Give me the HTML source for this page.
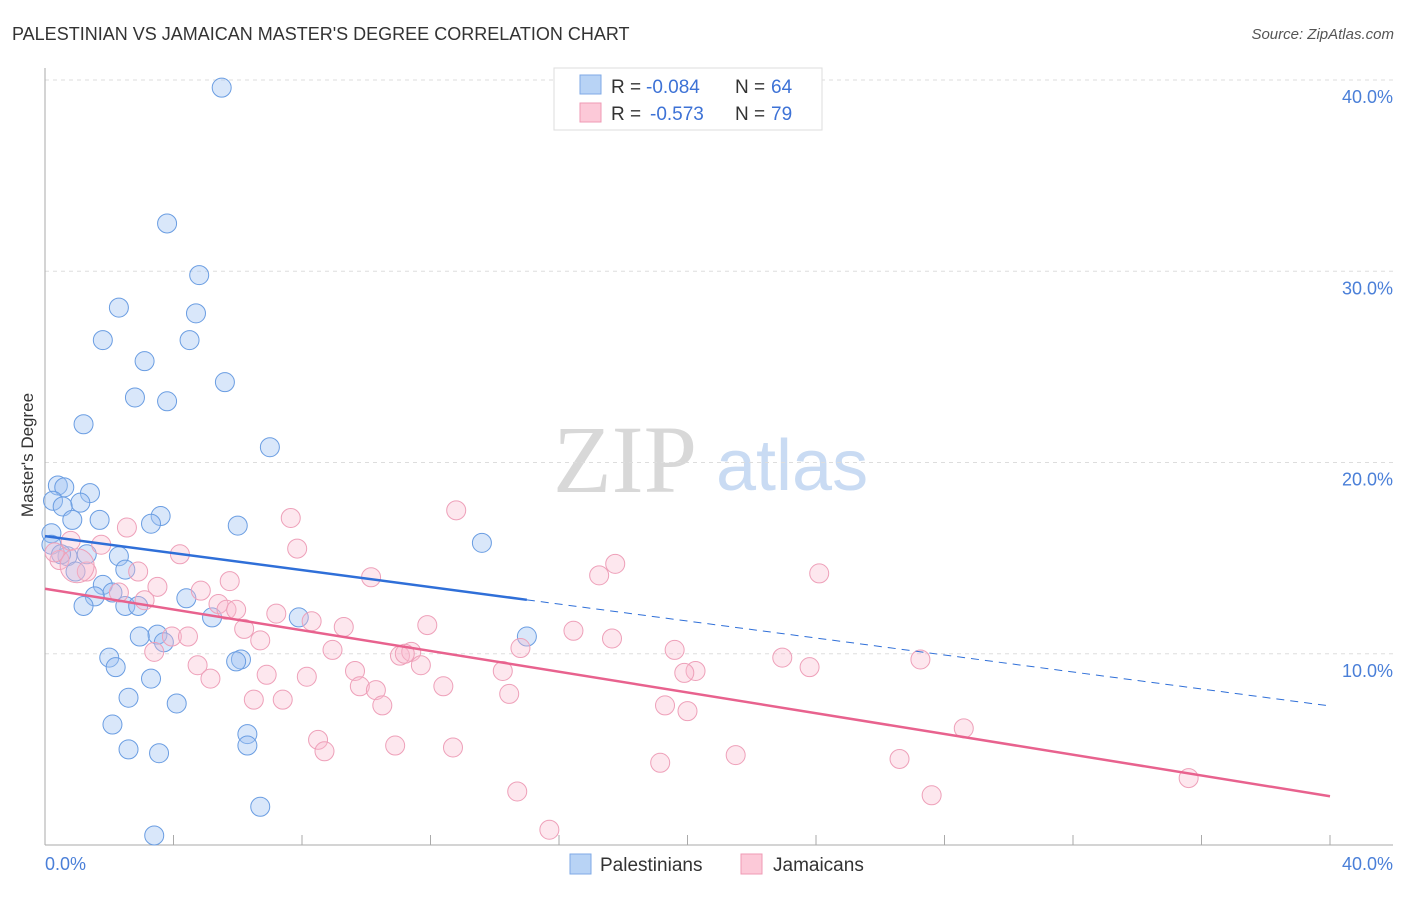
<!DOCTYPE html>
<html><head><meta charset="utf-8"><style>
body{margin:0;background:#fff;font-family:"Liberation Sans",sans-serif;}
svg text{font-family:"Liberation Sans",sans-serif;}
</style></head><body>
<svg id="chart" width="1406" height="892" xmlns="http://www.w3.org/2000/svg">
<text x="12" y="40" font-size="18" fill="#333">PALESTINIAN VS JAMAICAN MASTER'S DEGREE CORRELATION CHART</text>
<text x="1394" y="39" font-size="15" fill="#555" text-anchor="end" font-style="italic">Source: ZipAtlas.com</text>
<text x="553" y="492" font-size="96" fill="#d8d8d8" style="font-family:'Liberation Serif',serif">ZIP</text>
<text x="716" y="490" font-size="72" fill="#c9dbf3">atlas</text>
<g id="grid"></g>
<g id="axes"></g>
<g id="pts"></g>
<g id="trend"></g>
<text transform="translate(33,455) rotate(-90)" font-size="17" fill="#333" text-anchor="middle">Master's Degree</text>
<text x="45" y="870" font-size="18" fill="#4a7fd8">0.0%</text>
<text x="1393" y="870" font-size="18" fill="#4a7fd8" text-anchor="end">40.0%</text>
<g>
<rect x="554" y="68" width="268" height="62" fill="#fff" stroke="#ddd"/>
<rect x="580" y="75" width="21" height="19" fill="#b8d3f5" stroke="#7fa9e6"/>
<rect x="580" y="103" width="21" height="19" fill="#fcc9d8" stroke="#ef9ab4"/>
<text x="611" y="93" font-size="19" fill="#333">R =</text>
<text x="646" y="93" font-size="19" fill="#3d72d6">-0.084</text>
<text x="735" y="93" font-size="19" fill="#333">N =</text>
<text x="771" y="93" font-size="19" fill="#3d72d6">64</text>
<text x="611" y="120" font-size="19" fill="#333">R =</text>
<text x="650" y="120" font-size="19" fill="#3d72d6">-0.573</text>
<text x="735" y="120" font-size="19" fill="#333">N =</text>
<text x="771" y="120" font-size="19" fill="#3d72d6">79</text>
</g>
<g>
<rect x="570" y="854" width="21" height="20" fill="#b8d3f5" stroke="#7fa9e6"/>
<text x="600" y="871" font-size="19" fill="#333">Palestinians</text>
<rect x="741" y="854" width="21" height="20" fill="#fcc9d8" stroke="#ef9ab4"/>
<text x="773" y="871" font-size="19" fill="#333">Jamaicans</text>
</g>
</svg>
<script>
const yTicks=[10,20,30,40];
const yTickLabels=["10.0%","20.0%","30.0%","40.0%"];
const xTicks=[0,4,8,12,16,20,24,28,32,36,40];
const blueX=[5.5,3.8,4.8,2.3,4.7,1.8,4.5,3.1,5.6,2.8,3.8,1.2,7.0,0.4,0.6,1.4,0.25,1.1,0.55,1.7,0.85,3.6,3.3,6.0,0.2,13.6,0.2,1.3,2.3,0.7,0.5,2.5,0.95,1.8,2.1,1.55,4.4,2.5,2.9,1.2,7.9,5.2,3.5,2.95,3.7,15.0,6.1,5.95,2.0,2.2,3.3,2.6,4.1,2.1,6.3,6.3,2.6,3.55,6.7,3.4];
const blueY=[39.6,32.5,29.8,28.1,27.8,26.4,26.4,25.3,24.2,23.4,23.2,22.0,20.8,18.8,18.7,18.4,18.0,17.9,17.7,17.0,17.0,17.2,16.8,16.7,16.3,15.8,15.7,15.2,15.1,15.1,15.2,14.4,14.3,13.6,13.2,13.0,12.9,12.5,12.5,12.5,11.9,11.9,11.0,10.9,10.6,10.9,9.7,9.6,9.8,9.3,8.7,7.7,7.4,6.3,5.8,5.2,5.0,4.8,2.0,0.5];
const pinkX=[12.8,7.65,2.55,7.85,1.75,4.2,17.75,17.25,10.15,24.1,2.9,1.3,3.5,5.75,4.85,2.3,3.1,5.4,5.65,5.95,7.2,8.3,11.9,9.3,16.45,6.2,17.65,3.95,4.45,6.7,3.4,8.95,14.8,19.6,11.05,11.4,11.2,22.95,27.25,4.75,11.7,9.65,14.25,20.25,19.9,23.8,6.9,8.15,5.15,9.8,10.3,12.4,14.45,6.5,7.4,10.5,19.3,20.0,28.6,8.5,8.7,10.9,12.7,21.5,19.15,26.6,35.6,14.7,27.6,15.7,0.45,0.8,0.3,1.0];
const pinkY=[17.5,17.1,16.6,15.5,15.7,15.2,14.7,14.1,14.0,14.2,14.3,14.3,13.5,13.8,13.3,13.2,12.8,12.6,12.3,12.3,12.1,11.7,11.5,11.4,11.2,11.3,10.8,10.9,10.9,10.7,10.1,10.2,10.3,10.2,9.9,10.1,10.0,9.8,9.7,9.4,9.4,9.1,9.1,9.1,9.0,9.3,8.9,8.8,8.7,8.3,8.1,8.3,7.9,7.6,7.6,7.3,7.3,7.0,6.1,5.5,4.9,5.2,5.1,4.7,4.3,4.5,3.5,2.8,2.6,0.8,14.9,15.9,15.3,14.6];
const blueTrend=[16.15,7.27];
const pinkTrend=[13.4,2.55];
const blueSolidEnd=15.0;
const X0=45,X1=1330,Y0=845,Y1=80;
const sx=v=>X0+(X1-X0)*v/40;
const sy=v=>Y0-(Y0-Y1)*v/40;
const NS="http://www.w3.org/2000/svg";
function mk(parent,tag,attrs){const e=document.createElementNS(NS,tag);for(const k in attrs)e.setAttribute(k,attrs[k]);document.getElementById(parent).appendChild(e);return e;}
yTicks.forEach((t,i)=>{
 const g=mk('grid','line',{x1:X0,x2:1393,y1:sy(t),y2:sy(t),stroke:'#ddd','stroke-dasharray':'4,4'});
 
 
 const tx=mk('grid','text',{x:1393,y:sy(t)+23,'font-size':18,fill:'#4a7fd8','text-anchor':'end'});
 tx.textContent=yTickLabels[i];
 
 
});
const ax=mk('axes','line',{x1:X0,x2:X0,y1:68,y2:Y0,stroke:'#aaa'});


const bx=mk('axes','line',{x1:X0,x2:1393,y1:Y0,y2:Y0,stroke:'#aaa'});


xTicks.forEach(t=>{
 const l=mk('axes','line',{x1:sx(t),x2:sx(t),y1:Y0-10,y2:Y0,stroke:'#aaa'});
 
 
});
blueX.forEach((x,i)=>{
 const c=mk('pts','circle',{cx:sx(x),cy:sy(blueY[i]),r:9.5,fill:'rgba(160,196,242,0.4)',stroke:'#6a9de2','stroke-width':1});
 
 
});
pinkX.forEach((x,i)=>{
 const c=mk('pts','circle',{cx:sx(x),cy:sy(pinkY[i]),r:(i==pinkX.length-1?17:9.5),fill:'rgba(250,185,205,0.35)',stroke:'#eea0b9','stroke-width':1});
 
 
});
const by=x=>blueTrend[0]+(blueTrend[1]-blueTrend[0])*x/40;
const t1=mk('trend','line',{x1:sx(0),y1:sy(by(0)),x2:sx(blueSolidEnd),y2:sy(by(blueSolidEnd)),stroke:'#2f6fd8','stroke-width':2.5});


const t2=mk('trend','line',{x1:sx(blueSolidEnd),y1:sy(by(blueSolidEnd)),x2:sx(40),y2:sy(by(40)),stroke:'#2f6fd8','stroke-width':1,'stroke-dasharray':'8,6'});


const t3=mk('trend','line',{x1:sx(0),y1:sy(pinkTrend[0]),x2:sx(40),y2:sy(pinkTrend[1]),stroke:'#e8628e','stroke-width':2.5});


</script>
</body></html>
